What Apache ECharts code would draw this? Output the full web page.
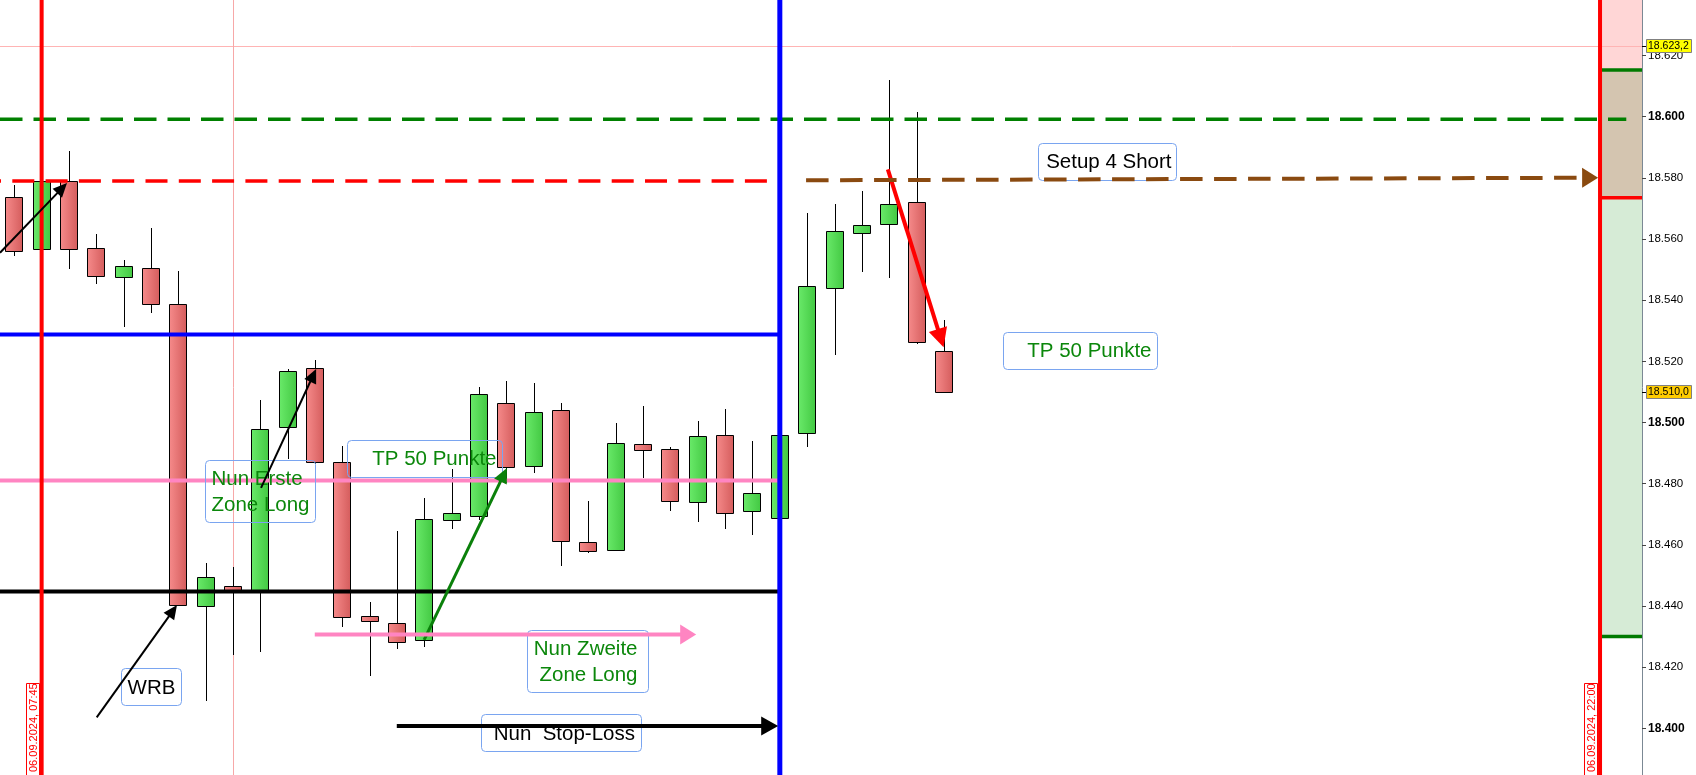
<!DOCTYPE html>
<html><head><meta charset="utf-8">
<script src="https://cdn.jsdelivr.net/npm/echarts@6/dist/echarts.min.js"></script>
<style>html,body{margin:0;padding:0;background:#fff;overflow:hidden}#c{width:1696px;height:775px}</style>
</head><body><div id="c"></div>
<script>
// ---------- candle data (index = bar number) ----------
const barIndex = [0,1,2,3,4,5,6,7,8,9,10,11,12,13,14,15,16,17,18,19,20,21,22,23,24,25,26,27,28,29,30,31,32,33,34];
const opens  = [18573.6,18556.6,18579.1,18557.0,18547.5,18550.4,18538.6,18440.0,18446.4,18445.2,18498.4,18517.7,18487.2,18436.6,18434.3,18428.9,18468.2,18469.5,18506.3,18485.7,18504.0,18460.8,18458.2,18492.9,18491.2,18473.9,18495.8,18470.9,18468.7,18496.5,18543.9,18561.9,18564.8,18572.0,18523.3];
const closes = [18556.0,18579.1,18556.6,18548.0,18551.1,18538.6,18440.3,18449.4,18445.3,18497.8,18516.7,18487.0,18436.3,18435.2,18428.1,18468.5,18470.3,18509.2,18485.3,18503.3,18461.1,18457.9,18493.2,18490.9,18474.2,18495.5,18470.3,18476.8,18495.8,18544.5,18562.5,18564.5,18571.4,18526.2,18510.0];
const lows   = [18554.4,18556.6,18550.3,18545.4,18531.3,18535.9,18440.3,18409.0,18424.0,18425.0,18488.0,18486.5,18433.2,18417.0,18425.9,18426.7,18465.3,18468.1,18480.1,18483.4,18453.2,18457.2,18458.2,18481.8,18471.2,18467.6,18465.3,18463.3,18468.0,18491.9,18522.2,18549.3,18547.4,18525.8,18510.0];
const highs  = [18577.7,18579.1,18588.8,18561.6,18553.1,18563.6,18549.5,18454.0,18452.8,18507.4,18517.4,18520.4,18492.3,18441.2,18464.6,18475.2,18484.7,18511.6,18513.6,18512.9,18506.4,18474.2,18499.8,18505.4,18491.9,18500.5,18504.4,18493.9,18496.5,18568.4,18571.4,18575.7,18612.0,18601.5,18533.5];

// ---------- axis ticks ----------
const tickValues = [18400,18420,18440,18460,18480,18500,18520,18540,18560,18580,18600,18620];
const tickLabels = ['18.400','18.420','18.440','18.460','18.480','18.500','18.520','18.540','18.560','18.580','18.600','18.620'];
const boldTicks  = [18400,18500,18600];

// ---------- price tags ----------
const tagValues = [18623.2, 18510.0];
const tagLabels = ['18.623,2', '18.510,0'];

// ---------- drawn levels (data coordinates) ----------
const vLineX = [1, 8, 28, 58];
const hLineY    = [18623.2, 18599.2, 18579.0, 18528.8, 18481.0, 18444.7];
const hLineFrom = [-0.523, -0.523, -0.523, -0.523, -0.523, -0.523];
const hLineTo   = [59.535, 58.96, 28, 28, 28, 28];
const zoneBounds = [18430.0, 18573.5, 18615.3, 18638.16];
const zoneFrom = 58, zoneTo = 59.535;

const arrowFrom = [[-0.523,18555.5],[3.014,18403.6],[9.025,18478.6],[14.99,18428.9],[31.95,18582.8],[10.99,18430.7],[13.99,18400.75],[28.96,18579.2]];
const arrowTo   = [[1.928,18578.3],[5.952,18440.3],[11.04,18517.5],[18.02,18485.1],[33.99,18524.6],[24.94,18430.7],[27.94,18400.75],[57.93,18580.05]];

const noteTexts   = ['Nun Erste\nZone Long','TP 50 Punkte','WRB','Nun Zweite\nZone Long','Nun  Stop-Loss','Setup 4 Short','TP 50 Punkte'];
const noteAnchors = [[6.988,18487.6],[12.18,18494.4],[3.914,18419.6],[18.77,18432.1],[17.08,18404.6],[37.46,18591.3],[36.18,18529.5]];

const dateTexts = ['06.09.2024, 07:45','06.09.2024, 22:00'];
const dateX = [1, 58];

// ---------- styles ----------
const XMIN = -0.523, XMAX = 59.535, YMIN = 18384.73, YMAX = 18638.16;
const FONT = 'Liberation Sans, Arial, sans-serif';
const GREEN_TXT = '#0b870b';
const vLineStyles = [
  {stroke:'#ff0000', lineWidth:4},
  {stroke:'#f7a8a8', lineWidth:1},
  {stroke:'#0000ff', lineWidth:5},
  {stroke:'#ff0000', lineWidth:4}
];
const hLineStyles = [
  {stroke:'#ffb4b4', lineWidth:1},
  {stroke:'#008000', lineWidth:3.5, lineDash:[22.5,11], lineDashOffset:0},
  {stroke:'#ff0000', lineWidth:3.5, lineDash:[22,11.3], lineDashOffset:21},
  {stroke:'#0000ff', lineWidth:4},
  {stroke:'#ff85c2', lineWidth:4},
  {stroke:'#000000', lineWidth:4}
];
const zoneFills = ['#d6ebd6','#d4c5b0','#ffd6d6'];
const zoneEdges = ['#007a00','#ff0000','#007a00'];
const arrowStyles = [
  {color:'#000', width:2, head:14, hw:6.5},
  {color:'#000', width:2, head:14, hw:6.5},
  {color:'#000', width:2, head:14, hw:6.5},
  {color:'#0a800a', width:3, head:15, hw:7},
  {color:'#ff0000', width:4, head:19, hw:9.5},
  {color:'#ff85c2', width:4, head:16, hw:10},
  {color:'#000', width:4, head:17, hw:9.5},
  {color:'#8a4a10', width:4, head:16, hw:10, dash:[22.5,11.5]}
];
const noteStyles = [
  {w:110,h:62,align:'left',pad:6,color:GREEN_TXT,dy:0},
  {w:155,h:37,align:'right',pad:6,color:GREEN_TXT,dy:-1},
  {w:60,h:37,align:'center',pad:0,color:'#000',dy:0},
  {w:121,h:62,align:'right',pad:11,color:GREEN_TXT,dy:0},
  {w:160,h:37,align:'right',pad:6.5,color:'#000',dy:0},
  {w:138,h:37,align:'right',pad:5,color:'#000',dy:-1},
  {w:154,h:37,align:'right',pad:6,color:GREEN_TXT,dy:-1}
];
const tagFills = ['#ffff00','#ffcc00'];

const redGrad = new echarts.graphic.LinearGradient(0,0,1,0,[{offset:0,color:'#f68b8b'},{offset:1,color:'#d45c5c'}]);
const greenGrad = new echarts.graphic.LinearGradient(0,0,1,0,[{offset:0,color:'#6aea6a'},{offset:1,color:'#42c842'}]);

function arrowEls(p1, p2, st){
  const dx=p2[0]-p1[0], dy=p2[1]-p1[1], len=Math.hypot(dx,dy);
  const ux=dx/len, uy=dy/len, nx=-uy, ny=ux;
  const bx=p2[0]-ux*st.head, by=p2[1]-uy*st.head;
  return [
    {type:'line', shape:{x1:p1[0],y1:p1[1],x2:bx+ux,y2:by+uy}, style:{stroke:st.color, lineWidth:st.width, lineDash:st.dash||null}},
    {type:'polygon', shape:{points:[[p2[0],p2[1]],[bx+nx*st.hw,by+ny*st.hw],[bx-nx*st.hw,by-ny*st.hw]]}, style:{fill:st.color}}
  ];
}

const chart = echarts.init(document.getElementById('c'), null, {renderer:'canvas'});
const candleData = barIndex.map((x,i)=>[x, opens[i], closes[i], lows[i], highs[i]]);

chart.setOption({
  animation:false,
  backgroundColor:'#ffffff',
  textStyle:{fontFamily:FONT},
  grid:{left:0, right:54, top:0, bottom:0, containLabel:false},
  xAxis:{type:'value', min:XMIN, max:XMAX, show:false},
  yAxis:{
    type:'value', position:'right', min:YMIN, max:YMAX, scale:true,
    axisLine:{show:true, onZero:false, lineStyle:{color:'#7b8894', width:1}},
    axisTick:{show:true, customValues:tickValues, length:4, lineStyle:{color:'#444'}},
    axisLabel:{
      customValues:tickValues, margin:6, color:'#000', fontSize:11.5, fontFamily:FONT,
      formatter:(v)=>{ const i = tickValues.indexOf(Math.round(v)); const t = i>=0 ? tickLabels[i] : ''; return boldTicks.indexOf(Math.round(v))>=0 ? '{b|'+t+'}' : t; },
      rich:{b:{fontWeight:'bold', fontSize:12, color:'#000', fontFamily:FONT}}
    },
    splitLine:{show:false}
  },
  series:[
    { // right zones
      type:'custom', data:[0,1,2].map(i=>[zoneFrom, zoneTo, zoneBounds[i], zoneBounds[i+1]]),
      renderItem:(p,api)=>{
        const a=api.coord([api.value(0),api.value(3)]), b=api.coord([api.value(1),api.value(2)]);
        const i=p.dataIndex;
        return {type:'rect', shape:{x:a[0],y:a[1],width:b[0]-a[0],height:b[1]-a[1]}, style:{fill:zoneFills[i]}};
      }
    },
    { // zone edges
      type:'custom', data:[0,1,2].map(i=>[zoneFrom, zoneTo, zoneBounds[i]]),
      renderItem:(p,api)=>{
        const a=api.coord([api.value(0),api.value(2)]), b=api.coord([api.value(1),api.value(2)]);
        return {type:'line', shape:{x1:a[0],y1:a[1],x2:b[0],y2:b[1]}, style:{stroke:zoneEdges[p.dataIndex], lineWidth:3.5}};
      }
    },
    { // thin horizontal line under candles
      type:'custom', data:[[hLineFrom[0],hLineTo[0],hLineY[0]]],
      renderItem:(p,api)=>{
        const a=api.coord([api.value(0),api.value(2)]), b=api.coord([api.value(1),api.value(2)]);
        const y=Math.round(a[1])+0.5;
        return {type:'line', shape:{x1:a[0],y1:y,x2:b[0],y2:y}, style:hLineStyles[0]};
      }
    },
    { // thin vertical line under candles
      type:'custom', data:[[vLineX[1]]],
      renderItem:(p,api)=>{
        const a=api.coord([api.value(0),YMAX]), b=api.coord([api.value(0),YMIN]);
        const x=Math.round(a[0])+0.5;
        return {type:'line', shape:{x1:x,y1:a[1],x2:x,y2:b[1]}, style:vLineStyles[1]};
      }
    },
    { // candles
      type:'custom', data:candleData,
      renderItem:(p,api)=>{
        const x=api.value(0), o=api.value(1), c=api.value(2), l=api.value(3), h=api.value(4);
        const pO=api.coord([x,o]), pC=api.coord([x,c]), pL=api.coord([x,l]), pH=api.coord([x,h]);
        const n=Math.round(pO[0]);
        let top=Math.round(Math.min(pO[1],pC[1]))+0.5;
        let bot=Math.round(Math.max(pO[1],pC[1]))+0.5;
        if (bot-top<3) bot=top+3;
        return {type:'group',children:[
          {type:'line', shape:{x1:n+0.5,y1:Math.round(pH[1]),x2:n+0.5,y2:Math.round(pL[1])}, style:{stroke:'#000',lineWidth:1}},
          {type:'rect', shape:{x:n-8.5,y:top,width:17,height:bot-top}, style:{fill:c>=o?greenGrad:redGrad, stroke:'#000', lineWidth:1}}
        ]};
      }
    },
    { // thick horizontal levels
      type:'custom', data:[1,2,3,4,5].map(i=>[hLineFrom[i],hLineTo[i],hLineY[i]]),
      renderItem:(p,api)=>{
        const a=api.coord([api.value(0),api.value(2)]), b=api.coord([api.value(1),api.value(2)]);
        return {type:'line', shape:{x1:a[0],y1:a[1],x2:b[0],y2:b[1]}, style:hLineStyles[p.dataIndex+1]};
      }
    },
    { // thick vertical lines
      type:'custom', data:[0,2,3].map(i=>[vLineX[i],i]),
      renderItem:(p,api)=>{
        const a=api.coord([api.value(0),YMAX]), b=api.coord([api.value(0),YMIN]);
        return {type:'line', shape:{x1:a[0],y1:a[1],x2:a[0],y2:b[1]}, style:vLineStyles[api.value(1)]};
      }
    },
    { // date labels
      type:'custom', data:dateX.map(x=>[x]),
      renderItem:(p,api)=>{
        const a=api.coord([api.value(0),YMIN]);
        const right=Math.round(a[0])-2;
        return {type:'group',children:[
          {type:'rect', shape:{x:right-13.5,y:683.5,width:13,height:100}, style:{fill:'#fff',stroke:'#ff0000',lineWidth:1}},
          {type:'text', x:right-6.5, y:772, rotation:Math.PI/2, style:{text:dateTexts[p.dataIndex], fill:'#ff0000', fontSize:11, fontFamily:FONT, align:'left', verticalAlign:'middle'}}
        ]};
      }
    },
    { // text notes
      type:'custom', data:noteAnchors,
      renderItem:(p,api)=>{
        const a=api.coord([api.value(0),api.value(1)]);
        const st=noteStyles[p.dataIndex];
        const x0=Math.round(a[0])+0.5, y0=Math.round(a[1])+0.5;
        let tx = st.align==='left' ? x0+st.pad : st.align==='right' ? x0+st.w-st.pad : x0+st.w/2;
        return {type:'group',children:[
          {type:'rect', shape:{x:x0,y:y0,width:st.w,height:st.h,r:4}, style:{fill:null, stroke:'#7aa5f0', lineWidth:1}},
          {type:'text', x:tx, y:y0+st.h/2+st.dy+1, style:{text:noteTexts[p.dataIndex], fill:st.color, fontSize:20.5, fontFamily:FONT, align:st.align, verticalAlign:'middle', lineHeight:26}}
        ]};
      }
    },
    { // arrows
      type:'custom', data:arrowFrom.map((f,i)=>[f[0],f[1],arrowTo[i][0],arrowTo[i][1]]),
      renderItem:(p,api)=>{
        const a=api.coord([api.value(0),api.value(1)]), b=api.coord([api.value(2),api.value(3)]);
        return {type:'group', children:arrowEls(a,b,arrowStyles[p.dataIndex])};
      }
    },
    { // price tags
      type:'custom', data:tagValues.map(v=>[XMAX,v]),
      renderItem:(p,api)=>{
        const a=api.coord([api.value(0),api.value(1)]);
        const y=Math.round(a[1]);
        const x=Math.round(a[0]);
        return {type:'group',children:[
          {type:'line', shape:{x1:x,y1:y+0.5,x2:x+4,y2:y+0.5}, style:{stroke:'#000',lineWidth:1}},
          {type:'rect', shape:{x:x+4.5,y:y-6.5,width:45,height:13}, style:{fill:tagFills[p.dataIndex], stroke:'#808080', lineWidth:1}},
          {type:'text', x:x+6, y:y+0.5, style:{text:tagLabels[p.dataIndex], fill:'#000', fontSize:10.5, fontFamily:FONT, align:'left', verticalAlign:'middle'}}
        ]};
      }
    }
  ]
});
</script></body></html>
